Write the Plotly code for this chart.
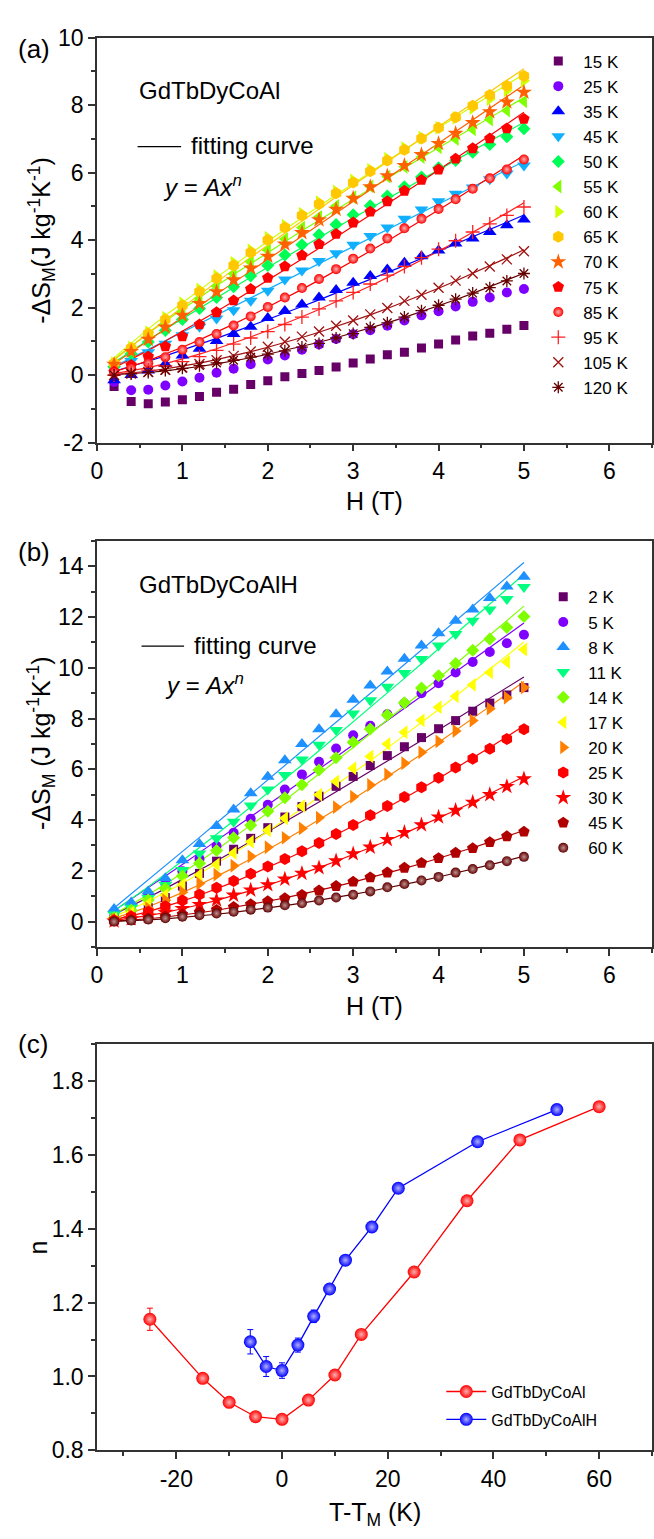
import numpy as np
import plotly.graph_objects as go

W, Hpx = 654, 1539
FONT = "Liberation Sans, Arial, sans-serif"

# ---------------- data ----------------
H = [0.2, 0.4, 0.6, 0.8, 1.0, 1.2, 1.4, 1.6, 1.8, 2.0, 2.2, 2.4, 2.6,
     2.8, 3.0, 3.2, 3.4, 3.6, 3.8, 4.0, 4.2, 4.4, 4.6, 4.8, 5.0]

# panel (a) GdTbDyCoAl, -dS_M (J/kg/K)
a15 = [-0.34, -0.78, -0.85, -0.80, -0.73, -0.63, -0.51, -0.42, -0.28, -0.17, -0.05, 0.05, 0.14,
       0.24, 0.36, 0.48, 0.60, 0.68, 0.80, 0.92, 1.04, 1.16, 1.24, 1.36, 1.47]
a25 = [-0.20, -0.45, -0.43, -0.31, -0.19, -0.08, 0.07, 0.19, 0.32, 0.46, 0.58, 0.75, 0.91,
       1.07, 1.21, 1.33, 1.46, 1.62, 1.77, 1.89, 2.03, 2.17, 2.30, 2.45, 2.55]
a35 = [-0.15, 0.00, 0.14, 0.33, 0.58, 0.78, 1.01, 1.22, 1.43, 1.69, 1.90, 2.09, 2.30,
       2.52, 2.74, 2.94, 3.13, 3.33, 3.52, 3.69, 3.90, 4.05, 4.24, 4.44, 4.61]
a45 = [0.18, 0.42, 0.68, 0.93, 1.18, 1.43, 1.68, 1.92, 2.20, 2.50, 2.83, 3.10, 3.38,
       3.61, 3.86, 4.12, 4.37, 4.63, 4.91, 5.15, 5.37, 5.56, 5.80, 5.97, 6.21]
a50 = [0.25, 0.63, 0.98, 1.32, 1.65, 1.97, 2.30, 2.62, 2.94, 3.25, 3.56, 3.86, 4.16,
       4.46, 4.75, 5.02, 5.31, 5.58, 5.87, 6.14, 6.36, 6.60, 6.83, 7.06, 7.30]
a55 = [0.30, 0.73, 1.13, 1.52, 1.90, 2.27, 2.64, 3.00, 3.35, 3.70, 4.03, 4.37, 4.69,
       5.01, 5.27, 5.59, 5.88, 6.17, 6.46, 6.75, 6.99, 7.28, 7.57, 7.84, 8.11]
a60 = [0.35, 0.82, 1.27, 1.70, 2.13, 2.54, 2.94, 3.33, 3.70, 4.07, 4.43, 4.78, 5.12,
       5.44, 5.77, 6.09, 6.41, 6.73, 7.04, 7.33, 7.62, 7.91, 8.18, 8.44, 8.72]
a65 = [0.35, 0.80, 1.23, 1.65, 2.06, 2.47, 2.86, 3.25, 3.63, 4.00, 4.37, 4.73, 5.07,
       5.39, 5.71, 6.04, 6.36, 6.68, 7.01, 7.33, 7.64, 7.98, 8.30, 8.57, 8.86]
a70 = [0.32, 0.70, 1.06, 1.42, 1.77, 2.12, 2.47, 2.82, 3.17, 3.52, 3.88, 4.22, 4.60,
       4.91, 5.24, 5.58, 5.90, 6.21, 6.53, 6.86, 7.16, 7.48, 7.80, 8.09, 8.38]
a75 = [0.10, 0.30, 0.55, 0.85, 1.15, 1.50, 1.86, 2.21, 2.55, 2.88, 3.22, 3.55, 3.88,
       4.18, 4.52, 4.84, 5.15, 5.46, 5.78, 6.09, 6.41, 6.72, 7.01, 7.31, 7.59]
a85 = [0.08, 0.20, 0.35, 0.53, 0.75, 0.98, 1.22, 1.47, 1.74, 2.02, 2.30, 2.58, 2.85,
       3.14, 3.45, 3.75, 4.05, 4.35, 4.63, 4.92, 5.21, 5.52, 5.83, 6.09, 6.39]
a95 = [0.00, 0.06, 0.15, 0.27, 0.40, 0.55, 0.73, 0.92, 1.10, 1.29, 1.50, 1.72, 1.96,
       2.20, 2.45, 2.70, 2.96, 3.22, 3.48, 3.73, 3.98, 4.24, 4.48, 4.73, 4.98]
a105 = [0.00, 0.05, 0.09, 0.16, 0.23, 0.33, 0.44, 0.57, 0.70, 0.84, 0.99, 1.14, 1.29,
        1.46, 1.62, 1.80, 1.99, 2.20, 2.38, 2.59, 2.80, 3.01, 3.22, 3.43, 3.67]
a120 = [0.00, 0.04, 0.08, 0.14, 0.20, 0.28, 0.36, 0.44, 0.53, 0.62, 0.72, 0.83, 0.94,
        1.10, 1.23, 1.41, 1.55, 1.72, 1.91, 2.07, 2.25, 2.43, 2.59, 2.79, 3.01]

# panel (b) GdTbDyCoAlH
b2 = [0.05, 0.25, 0.55, 0.95, 1.40, 1.90, 2.38, 2.85, 3.28, 3.70, 4.12, 4.53, 4.94,
      5.33, 5.72, 6.15, 6.54, 6.89, 7.25, 7.60, 7.92, 8.29, 8.61, 8.93, 9.22]
b5 = [0.20, 0.60, 1.05, 1.50, 1.98, 2.47, 2.98, 3.50, 4.05, 4.60, 5.20, 5.80, 6.30,
      6.82, 7.34, 7.72, 8.17, 8.60, 9.00, 9.39, 9.82, 10.23, 10.62, 10.97, 11.30]
b8 = [0.50, 0.75, 1.19, 1.71, 2.42, 3.06, 3.77, 4.42, 5.06, 5.71, 6.36, 7.00, 7.58,
      8.17, 8.74, 9.30, 9.85, 10.36, 10.88, 11.36, 11.85, 12.30, 12.75, 13.20, 13.59]
b11 = [0.28, 0.54, 0.93, 1.44, 2.03, 2.68, 3.28, 3.93, 4.57, 5.20, 5.78, 6.39, 6.97,
       7.55, 8.20, 8.72, 9.25, 9.80, 10.35, 10.88, 11.33, 11.85, 12.30, 12.71, 13.18]
b14 = [0.15, 0.45, 0.85, 1.30, 1.80, 2.30, 2.80, 3.30, 3.80, 4.35, 4.88, 5.39, 5.97,
       6.46, 7.07, 7.59, 8.14, 8.62, 9.20, 9.69, 10.17, 10.69, 11.14, 11.59, 12.02]
b17 = [0.10, 0.35, 0.70, 1.05, 1.45, 1.85, 2.25, 2.70, 3.15, 3.60, 4.07, 4.55, 5.00,
       5.52, 6.04, 6.51, 7.00, 7.46, 7.93, 8.45, 8.88, 9.33, 9.82, 10.23, 10.72]
b20 = [0.07, 0.27, 0.53, 0.84, 1.16, 1.50, 1.85, 2.20, 2.57, 2.93, 3.30, 3.67, 4.09,
       4.51, 4.92, 5.38, 5.80, 6.24, 6.67, 7.10, 7.51, 7.92, 8.39, 8.82, 9.22]
b25 = [0.05, 0.20, 0.39, 0.60, 0.83, 1.07, 1.33, 1.60, 1.88, 2.17, 2.47, 2.77, 3.10,
       3.45, 3.81, 4.19, 4.55, 4.91, 5.29, 5.67, 6.07, 6.42, 6.81, 7.19, 7.58]
b30 = [0.02, 0.11, 0.22, 0.36, 0.51, 0.67, 0.85, 1.04, 1.24, 1.45, 1.67, 1.90, 2.12,
       2.39, 2.67, 2.93, 3.23, 3.51, 3.81, 4.12, 4.38, 4.70, 5.00, 5.32, 5.62]
b45 = [0.01, 0.06, 0.12, 0.20, 0.28, 0.37, 0.46, 0.57, 0.68, 0.80, 0.92, 1.05, 1.22,
       1.40, 1.57, 1.74, 1.93, 2.12, 2.31, 2.50, 2.71, 2.89, 3.13, 3.36, 3.54]
b60 = [0.00, 0.04, 0.08, 0.13, 0.19, 0.25, 0.32, 0.39, 0.47, 0.55, 0.64, 0.72, 0.83,
       0.95, 1.06, 1.19, 1.35, 1.48, 1.62, 1.76, 1.93, 2.07, 2.22, 2.38, 2.55]

# panel (c) exponent n vs T - T_M
T_M_al, T_M_alh = 60, 8
T_al = [35, 45, 50, 55, 60, 65, 70, 75, 85, 95, 105, 120]
dT_al = [-25, -15, -10, -5, 0, 5, 10, 15, 25, 35, 45, 60]
n_al = [1.155, 0.995, 0.930, 0.891, 0.884, 0.936, 1.004, 1.114, 1.283, 1.476, 1.641, 1.731]
err_al = [0.030, 0.010, 0.008, 0.008, 0.007, 0.008, 0.009, 0.010, 0.012, 0.010, 0.008, 0.006]
T_alh = [2, 5, 8, 11, 14, 17, 20, 25, 30, 45, 60]
dT_alh = [-6, -3, 0, 3, 6, 9, 12, 17, 22, 37, 52]
n_alh = [1.094, 1.027, 1.016, 1.085, 1.163, 1.237, 1.315, 1.405, 1.510, 1.636, 1.723]
err_alh = [0.033, 0.027, 0.021, 0.019, 0.017, 0.012, 0.010, 0.008, 0.006, 0.006, 0.005]

# tick labels (hyphen minus as in the original)
ytick_a_vals = [-2, 0, 2, 4, 6, 8, 10]
ytick_a_text = ["-2", "0", "2", "4", "6", "8", "10"]
xtick_c_vals = [-20, 0, 20, 40, 60]
xtick_c_text = ["-20", "0", "20", "40", "60"]

# series styles: (temperature, values, symbol, colour)
series_a = [
    (15, a15, "square", "#660066"),
    (25, a25, "circle", "#7f00ff"),
    (35, a35, "triangle-up", "#0000ff"),
    (45, a45, "triangle-down", "#10b0ff"),
    (50, a50, "diamond", "#00ff55"),
    (55, a55, "triangle-left", "#80ff00"),
    (60, a60, "triangle-right", "#d0ff00"),
    (65, a65, "hexagon", "#ffc800"),
    (70, a70, "star", "#ff6000"),
    (75, a75, "pentagon", "#ff0000"),
    (85, a85, "ball", "#ff0000"),
    (95, a95, "cross-thin", "#ff2020"),
    (105, a105, "x-thin", "#a01010"),
    (120, a120, "asterisk", "#660000"),
]
series_b = [
    (2, b2, "square", "#660066"),
    (5, b5, "circle", "#7f00ff"),
    (8, b8, "triangle-up", "#1e90ff"),
    (11, b11, "triangle-down", "#00ff7f"),
    (14, b14, "diamond", "#80ff00"),
    (17, b17, "triangle-left", "#ffff00"),
    (20, b20, "triangle-right", "#ff8000"),
    (25, b25, "hexagon", "#ff0000"),
    (30, b30, "star", "#ff0000"),
    (45, b45, "pentagon", "#b00000"),
    (60, b60, "ball", "#600000"),
]

HIGHLIGHT = {"#ff0000": "#ffb0b0", "#600000": "#c09090", "#0000ff": "#b0b0ff"}

fig = go.Figure()
Harr = np.array(H)


def fit_curve(vals, n):
    y = np.array(vals)
    xn = Harr ** n
    A = float(np.sum(y * xn) / np.sum(xn * xn))
    return A * xn


def marker_for(sym, col, size):
    if sym == "ball":
        return dict(symbol="circle", size=size, color=col,
                    gradient=dict(type="radial", color=HIGHLIGHT.get(col, "#ffffff")),
                    line=dict(width=0))
    if sym in ("cross-thin", "x-thin", "asterisk"):
        return dict(symbol=sym, size=size, color=col, line=dict(width=1.3, color=col))
    s = size
    if sym.startswith("triangle") or sym in ("hexagon", "star", "pentagon"):
        s = size + 2
    if sym == "square":
        s = size - 1
    return dict(symbol=sym, size=s, color=col, line=dict(width=0))


def add_panel(series, Tlist, nlist, xa, ya, leg, fitted_from):
    # fitting curves y = A x^n
    for T, vals, sym, col in series:
        if T in Tlist and T >= fitted_from:
            n = nlist[Tlist.index(T)]
            fig.add_trace(go.Scatter(x=H, y=fit_curve(vals, n), mode="lines",
                                     line=dict(color=col, width=1.2),
                                     xaxis=xa, yaxis=ya, showlegend=False, hoverinfo="skip"))
    for T, vals, sym, col in series:
        fig.add_trace(go.Scatter(x=H, y=vals, mode="markers", name=f"{T} K",
                                 marker=marker_for(sym, col, 10),
                                 xaxis=xa, yaxis=ya, legend=leg))


add_panel(series_a, T_al, n_al, "x", "y", "legend", 35)
add_panel(series_b, T_alh, n_alh, "x2", "y2", "legend2", 0)

fig.add_trace(go.Scatter(x=dT_al, y=n_al, mode="lines+markers", name="GdTbDyCoAl",
                         line=dict(color="#ff0000", width=1.3),
                         marker=dict(symbol="circle", size=13, color="#ff0000",
                                     gradient=dict(type="radial", color="#ffb0b0")),
                         error_y=dict(type="data", array=err_al, color="#ff0000",
                                      thickness=1, width=3),
                         xaxis="x3", yaxis="y3", legend="legend3", legendgroup="al"))
fig.add_trace(go.Scatter(x=dT_alh, y=n_alh, mode="lines+markers", name="GdTbDyCoAlH",
                         line=dict(color="#0000ff", width=1.3),
                         marker=dict(symbol="circle", size=13, color="#0000ff",
                                     gradient=dict(type="radial", color="#b0b0ff")),
                         error_y=dict(type="data", array=err_alh, color="#0000ff",
                                      thickness=1, width=3),
                         xaxis="x3", yaxis="y3", legend="legend3", legendgroup="alh"))

# ---------------- layout ----------------
def px_x(p):
    return p / W


def px_y(p):
    return 1 - p / Hpx


XDOM = [px_x(92), px_x(653)]
DOM_A = [px_y(437), px_y(25)]
DOM_B = [px_y(950), px_y(537)]
DOM_C = [px_y(1462), px_y(1049)]

AX = dict(showline=True, linecolor="#333333", linewidth=1.5, mirror=True,
          ticks="outside", ticklen=7, tickwidth=1.5, tickcolor="#333333",
          showgrid=False, zeroline=False,
          tickfont=dict(size=23, color="black", family=FONT))


def minor(d):
    return dict(ticks="outside", ticklen=4, tickwidth=1.5, tickcolor="#333333",
                dtick=d, showgrid=False)


LEG = dict(xanchor="left", yanchor="top", bgcolor="rgba(0,0,0,0)", itemwidth=40)

layout = dict(
    width=W, height=Hpx, margin=dict(l=0, r=0, t=0, b=0),
    paper_bgcolor="white", plot_bgcolor="white",
    font=dict(family=FONT, color="black"),
    xaxis=dict(AX, domain=XDOM, anchor="y", range=[0, 6.5], tick0=0, dtick=1, minor=minor(0.5)),
    yaxis=dict(AX, domain=DOM_A, anchor="x", range=[-2, 10], tickmode="array",
               tickvals=ytick_a_vals, ticktext=ytick_a_text, minor=minor(1)),
    xaxis2=dict(AX, domain=XDOM, anchor="y2", range=[0, 6.5], tick0=0, dtick=1, minor=minor(0.5)),
    yaxis2=dict(AX, domain=DOM_B, anchor="x2", range=[-1, 15], tick0=0, dtick=2, minor=minor(1)),
    xaxis3=dict(AX, domain=XDOM, anchor="y3", range=[-35, 70], tickmode="array",
                tickvals=xtick_c_vals, ticktext=xtick_c_text, minor=minor(10)),
    yaxis3=dict(AX, domain=DOM_C, anchor="x3", range=[0.8, 1.9], tick0=0.8, dtick=0.2,
                tickformat=".1f", minor=minor(0.1)),
    legend=dict(LEG, x=px_x(533), y=px_y(31), font=dict(size=17, family=FONT), tracegroupgap=0),
    legend2=dict(LEG, x=px_x(538), y=px_y(576), font=dict(size=17, family=FONT), tracegroupgap=0),
    legend3=dict(LEG, x=px_x(440), y=px_y(1385), font=dict(size=16, family=FONT), tracegroupgap=4),
)
fig.update_layout(**layout)


def ann(text, x, y, size, xanchor="left", angle=0):
    fig.add_annotation(text=text, x=px_x(x), y=px_y(y), xref="paper", yref="paper",
                       xanchor=xanchor, yanchor="middle", showarrow=False,
                       textangle=angle, font=dict(size=size, family=FONT, color="black"))


# panel labels
ann("(a)", 10, 37, 26)
ann("(b)", 10, 548, 26)
ann("(c)", 10, 1049, 26)
# in-plot texts
ann("GdTbDyCoAl", 132, 79, 24)
ann("fitting curve", 185, 135, 24)
ann("<i>y</i> = <i>Ax</i><sup><i>n</i></sup>", 157, 176, 24)
ann("GdTbDyCoAlH", 132, 581, 24)
ann("fitting curve", 188, 643, 24)
ann("<i>y</i> = <i>Ax</i><sup><i>n</i></sup>", 159, 683, 24)
for (x0, x1, yy) in [(133, 177, 136), (137, 180, 644)]:
    fig.add_shape(type="line", xref="paper", yref="paper", x0=px_x(x0), x1=px_x(x1),
                  y0=px_y(yy), y1=px_y(yy), line=dict(color="black", width=1.2))
# axis titles
ann("-ΔS<sub>M</sub>(J kg<sup>-1</sup>K<sup>-1</sup>)", 36, 231, 25, "center", -90)
ann("H (T)", 372.5, 496, 25, "center")
ann("-ΔS<sub>M</sub> (J kg<sup>-1</sup>K<sup>-1</sup>)", 36, 743, 25, "center", -90)
ann("H (T)", 372.5, 1010, 25, "center")
ann("n", 32, 1256, 25, "center", -90)
ann("T-T<sub>M</sub> (K)", 372.5, 1527, 25, "center")

fig.write_html("out.html")
